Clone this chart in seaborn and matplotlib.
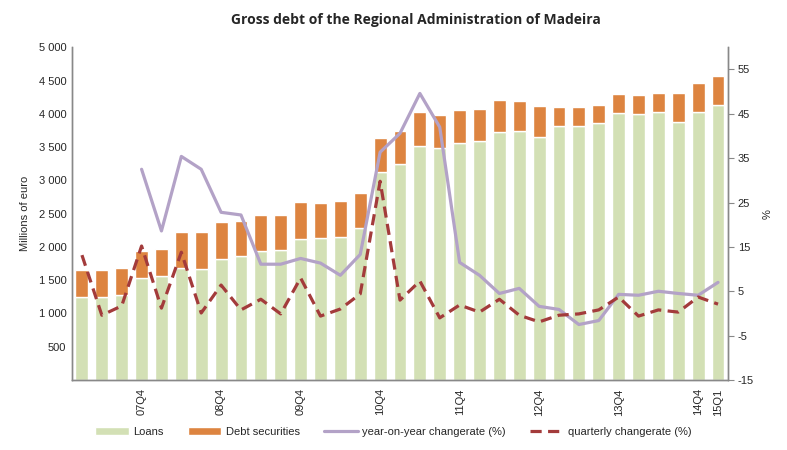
import matplotlib
matplotlib.use("Agg")
import matplotlib.pyplot as plt
import seaborn as sns
import numpy as np
import pandas as pd

quarters = [f"{y:02d}Q{q}" for y in range(7, 15) for q in range(1, 5)] + ["15Q1"]
shown_labels = ["07Q4", "08Q4", "09Q4", "10Q4", "11Q4", "12Q4", "13Q4", "14Q4", "15Q1"]

loans = [1247, 1247, 1277, 1532, 1562, 1687, 1667, 1817, 1862, 1937, 1952, 2118,
         2133, 2148, 2283, 3124, 3244, 3515, 3485, 3560, 3590, 3725, 3740, 3650,
         3815, 3815, 3860, 4010, 3995, 4025, 3875, 4025, 4130]
total = [1652, 1652, 1682, 1937, 1967, 2223, 2223, 2373, 2388, 2483, 2483, 2673,
         2658, 2688, 2808, 3635, 3740, 4025, 3980, 4055, 4070, 4206, 4190, 4115,
         4100, 4100, 4130, 4296, 4280, 4310, 4310, 4461, 4566]
debt_securities = [t - l for t, l in zip(total, loans)]

yoy = [np.nan, np.nan, np.nan, 32.5, 18.6, 35.4, 32.5, 22.8, 22.2, 11.1, 11.1, 12.4,
       11.35, 8.6, 13.3, 36.35, 40.6, 49.6, 42.0, 11.5, 8.6, 4.5, 5.65, 1.6,
       0.9, -2.5, -1.6, 4.3, 4.1, 5.0, 4.5, 4.1, 7.0]
qoq = [13.15, -0.4, 1.7, 15.2, 1.2, 13.8, 0.1, 6.4, 0.8, 3.2, -0.1, 8.0,
       -0.6, 1.0, 4.4, 29.8, 3.0, 7.3, -1.0, 1.9, 0.3, 3.2, -0.4, -1.9,
       -0.4, -0.1, 0.8, 3.7, -0.6, 0.8, 0.3, 3.7, 2.1]

df = pd.DataFrame({"quarter": quarters, "loans": loans, "debt": debt_securities,
                   "yoy": yoy, "qoq": qoq, "pos": np.arange(len(quarters))})

sns.set_style("white")
plt.rcParams["font.family"] = ["Liberation Sans", "DejaVu Sans"]

fig = plt.figure(figsize=(7.87, 4.5), dpi=100)
ax = fig.add_axes([0.0915, 0.1556, 0.8335, 0.7393])

green = "#D3E0B5"
orange = "#DD8440"
lav = "#B3A2C7"
red = "#A33B3B"

sns.barplot(data=df, x="quarter", y="loans", order=quarters, color=green,
            width=0.65, ax=ax, saturation=1, label="Loans")
sns.barplot(data=df, x="quarter", y="debt", order=quarters, color=orange,
            width=0.65, ax=ax, saturation=1, bottom=df["loans"].values,
            label="Debt securities")
if ax.get_legend() is not None:
    ax.get_legend().remove()
ax.set_xlim(-0.5, len(quarters) - 0.5)
ax.set_ylim(0, 5000)
ax.set_yticks(np.arange(500, 5001, 500))
ax.set_yticklabels([f"{v:,}".replace(",", " ") for v in range(500, 5001, 500)], fontsize=8)
ax.set_ylabel("Millions of euro", fontsize=8, labelpad=6)
ax.set_xlabel("")
tick_pos = [quarters.index(l) for l in shown_labels]
ax.set_xticks(tick_pos)
ax.set_xticklabels(shown_labels, rotation=90, fontsize=8)
ax.tick_params(axis="both", length=0, pad=4)
ax.tick_params(axis="x", pad=6)

ax2 = ax.twinx()
sns.lineplot(data=df, x="pos", y="yoy", ax=ax2, color=lav, lw=2.3,
             label="year-on-year changerate (%)", legend=False)
sns.lineplot(data=df, x="pos", y="qoq", ax=ax2, color=red, lw=2.3,
             dashes=False, label="quarterly changerate (%)", legend=False)
ax2.lines[-1].set_linestyle((0, (3.5, 2.0)))
ax2.set_ylim(-15, 60)
ax2.set_yticks(np.arange(-15, 56, 10))
ax2.set_yticklabels([str(v) for v in range(-15, 56, 10)], fontsize=8)
ax2.set_ylabel("%", fontsize=8, labelpad=6)
ax2.set_xlabel("")
ax2.tick_params(axis="y", length=4, width=0.8, color="#888888", direction="out", pad=3)
ax2.set_xlim(-0.5, len(quarters) - 0.5)

for a in (ax, ax2):
    a.spines["top"].set_visible(False)
    for s in ("left", "right", "bottom"):
        a.spines[s].set_color("#888888")
        a.spines[s].set_linewidth(1.0)

h1, l1 = ax.get_legend_handles_labels()
h2, l2 = ax2.get_legend_handles_labels()
fig.legend(h1 + h2, l1 + l2, loc="center", bbox_to_anchor=(0.5, 0.04), ncol=4,
           frameon=False, fontsize=8, handlelength=3.0, columnspacing=2.2,
           handletextpad=0.4)

fig.text(0.528, 0.955, "Gross debt of the Regional Administration of Madeira",
         ha="center", va="center", fontsize=10, fontweight="bold",
         family=["Open Sans", "DejaVu Sans"])

fig.savefig("out.png", dpi=100)
